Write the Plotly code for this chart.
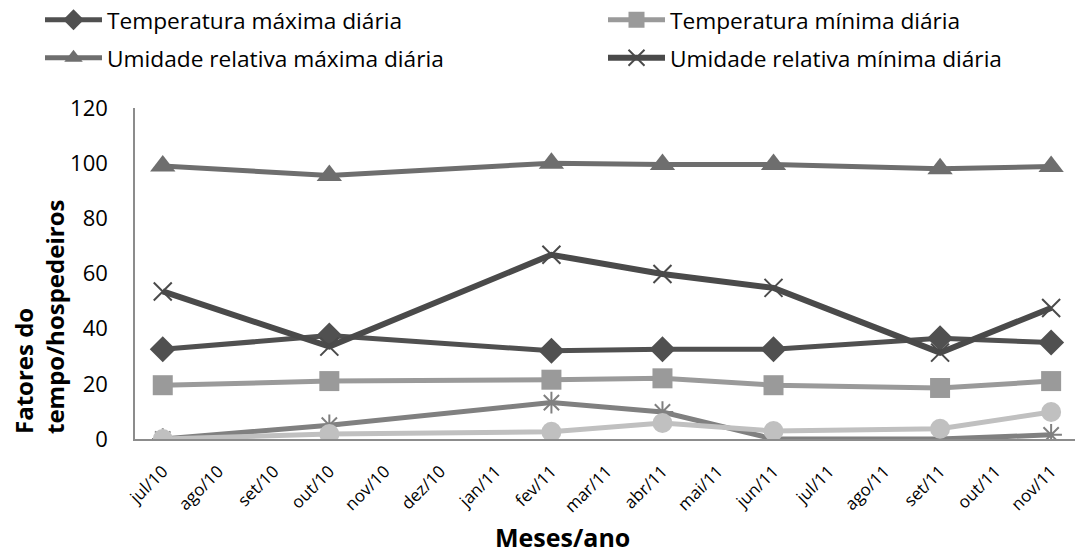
import plotly.graph_objects as go

months = ["jul/10", "ago/10", "set/10", "out/10", "nov/10", "dez/10", "jan/11", "fev/11",
          "mar/11", "abr/11", "mai/11", "jun/11", "jul/11", "ago/11", "set/11", "out/11", "nov/11"]
sample_months = ["jul/10", "out/10", "fev/11", "abr/11", "jun/11", "set/11", "nov/11"]

temp_max = [32.5, 37.5, 32, 32.5, 32.5, 36.5, 35]
temp_min = [19.5, 21, 21.5, 22, 19.5, 18.5, 21]
umid_max = [99, 95.5, 100, 99.5, 99.5, 98, 98.8]
umid_min = [53.5, 33.5, 66.8, 59.8, 54.8, 31.3, 47.5]
serie_5 = [0, 5, 13.2, 9.8, 0, 0, 1.5]
serie_6 = [0, 1.8, 2.6, 5.8, 2.9, 3.7, 9.8]

FONT = "Open Sans"

fig = go.Figure()

def add(name, vals, color, symbol, size, width, legend, showlegend=True, mline=0):
    fig.add_trace(go.Scatter(
        x=sample_months, y=vals, name=name, mode="lines+markers",
        line=dict(color=color, width=width),
        marker=dict(symbol=symbol, size=size, color=color,
                    line=dict(color=color, width=mline)),
        legend=legend, showlegend=showlegend, connectgaps=True,
    ))

add("Temperatura máxima diária", temp_max, "#505050", "diamond", 20, 5, "legend")
add("Temperatura mínima diária", temp_min, "#9a9a9a", "square", 20, 5, "legend2")
add("Umidade relativa máxima diária", umid_max, "#6e6e6e", "triangle-up", 22, 5, "legend3")
add("Umidade relativa mínima diária", umid_min, "#4a4a4a", "x-thin-open", 18, 6, "legend4", mline=2)
add("Série 5", serie_5, "#808080", "asterisk-open", 18, 5, "legend", showlegend=False, mline=2)
add("Série 6", serie_6, "#c0c0c0", "circle", 20, 5, "legend", showlegend=False)

def leg(xpx, ypx):
    return dict(orientation="h", xref="container", yref="container",
                x=xpx / 1075, y=1 - ypx / 554, xanchor="left", yanchor="middle",
                font=dict(family=FONT, size=22.7, color="#000000"),
                itemwidth=57, bgcolor="rgba(0,0,0,0)")

fig.update_layout(
    width=1075, height=554,
    margin=dict(l=135, r=0, t=108, b=115),
    paper_bgcolor="white", plot_bgcolor="white",
    font=dict(family=FONT, color="#000000"),
    legend=leg(40, 20),
    legend2=leg(603, 20),
    legend3=leg(40, 58),
    legend4=leg(603, 58),
    xaxis=dict(type="category", categoryorder="array", categoryarray=months,
               tickmode="array", tickvals=months, ticktext=months,
               range=[-0.5, 16.43], showgrid=False, showline=True, linecolor="#8c8c8c",
               linewidth=1.5, ticks="", tickangle=-45, ticklabelstandoff=14,
               tickfont=dict(family=FONT, size=17, color="#000000")),
    yaxis=dict(range=[0, 120], tickvals=[0, 20, 40, 60, 80, 100, 120],
               showgrid=False, showline=True, linecolor="#8c8c8c", linewidth=1.5,
               ticks="", zeroline=False, ticklabelstandoff=21,
               tickfont=dict(family=FONT, size=22, color="#000000")),
    annotations=[
        dict(text="<b>Meses/ano</b>", xref="paper", yref="paper",
             x=(562 - 135) / 940, y=(439 - 537) / 331, xanchor="center", yanchor="middle",
             showarrow=False, font=dict(family=FONT, size=25, color="#000000")),
        dict(text="<b>Fatores do<br>tempo/hospedeiros</b>", xref="paper", yref="paper",
             x=(39 - 135) / 940, y=(439 - 317) / 331, xanchor="center", yanchor="middle",
             textangle=-90, align="left", showarrow=False,
             font=dict(family=FONT, size=24, color="#000000")),
    ],
)

fig.write_html("out.html", config={"displayModeBar": False},
               post_script="document.body.style.margin='0';")
